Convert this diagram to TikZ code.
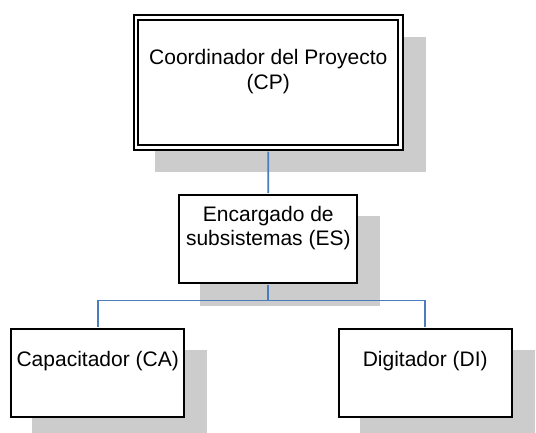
\documentclass[tikz,border=0pt]{standalone}
\usepackage{fontspec}
\setmainfont{Liberation Sans}
\definecolor{shadowgray}{RGB}{204,204,204}
\definecolor{linkblue}{RGB}{74,126,187}
\begin{document}
\begin{tikzpicture}[x=1pt,y=-1pt,
  box/.style={draw=black, fill=white, line width=2pt, inner sep=0pt},
  shadebox/.style={fill=shadowgray, draw=none},
  boxtext/.style={font=\fontsize{21}{24.5}\selectfont, align=center, inner sep=0pt, anchor=base},
  link/.style={draw=linkblue, line width=1.8pt}]
\useasboundingbox (0,0) rectangle (536,432);
\clip (0,0) rectangle (536,432);
% shadows
\fill[shadebox] (155,36.7) rectangle (425.5,172.3);
\fill[shadebox] (200.3,216) rectangle (380.3,306);
\fill[shadebox] (32,350.3) rectangle (207.3,440);
\fill[shadebox] (359.7,350.3) rectangle (534.7,440);
% boxes
\node[box, double, double distance=2.3pt, minimum width=264.5pt, minimum height=130pt] (cp) at (268.25,82.5) {};
\node[box, minimum width=178pt, minimum height=88pt] (es) at (268.3,239) {};
\node[box, minimum width=173.3pt, minimum height=88pt] (ca) at (97.7,373.3) {};
\node[box, minimum width=173pt, minimum height=88pt] (di) at (425.2,373.3) {};
% texts
\node[boxtext] (cpt) at (268.3,89.3) {Coordinador del Proyecto\\(CP)};
\node[boxtext] (est) at (268.3,245.8) {Encargado de\\subsistemas (ES)};
\node[boxtext] (cat) at (97.7,366.7) {Capacitador (CA)};
\node[boxtext] (dit) at (425.2,366.7) {Digitador (DI)};
% connectors
\coordinate (bus) at (268.3,300.5);
\draw[link, shorten <=3.2pt, shorten >=1pt] (cp.south) -- (es.north);
\draw[link, shorten <=1pt] (es.south) -- (bus);
\draw[link, shorten >=1pt] (bus) -| (ca.north);
\draw[link, shorten >=1pt] (bus) -| (di.north);
\end{tikzpicture}
\end{document}
